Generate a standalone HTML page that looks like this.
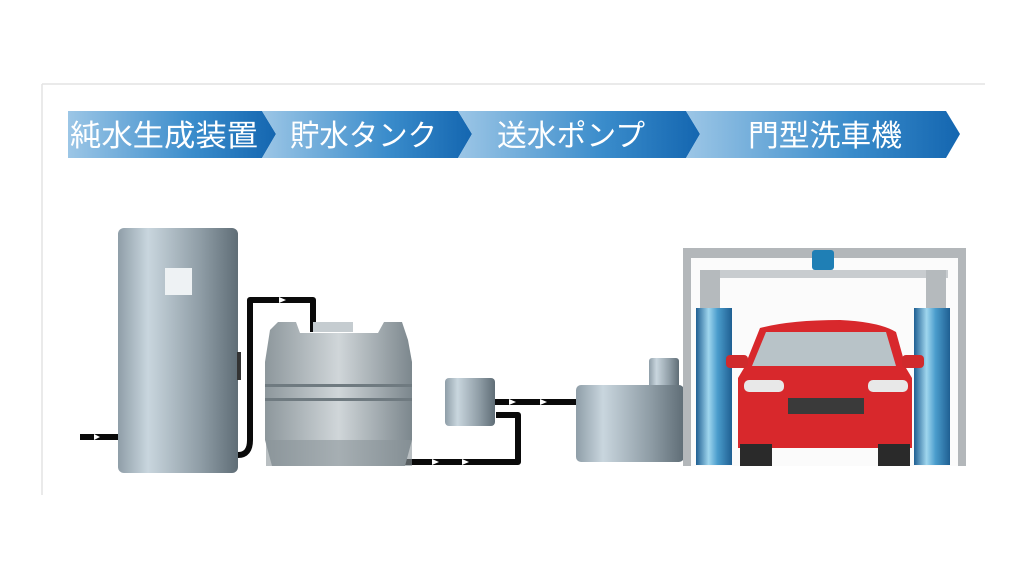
<!DOCTYPE html>
<html><head><meta charset="utf-8"><style>
html,body{margin:0;padding:0;background:#fff;width:1024px;height:576px;overflow:hidden}
svg{display:block}
text{font-family:"Liberation Sans","Noto Sans CJK JP",sans-serif;fill:#fff}
</style></head><body>
<svg width="1024" height="576" viewBox="0 0 1024 576" xmlns="http://www.w3.org/2000/svg">
<defs>
<linearGradient id="b" x1="0" x2="1" y1="0" y2="0"><stop offset="0" stop-color="#9cc6e6"/><stop offset="0.6" stop-color="#3a8ccb"/><stop offset="1" stop-color="#1466b0"/></linearGradient>
<linearGradient id="m" x1="0" x2="1"><stop offset="0" stop-color="#8f9ea8"/><stop offset="0.25" stop-color="#c9d6de"/><stop offset="0.7" stop-color="#8d9ba4"/><stop offset="1" stop-color="#5f6d76"/></linearGradient>
<linearGradient id="t" x1="0" x2="1"><stop offset="0" stop-color="#8d979c"/><stop offset="0.5" stop-color="#d0d6d9"/><stop offset="1" stop-color="#7c878d"/></linearGradient>
<linearGradient id="w" x1="0" x2="1"><stop offset="0" stop-color="#1f5f92"/><stop offset="0.35" stop-color="#9fd6ee"/><stop offset="0.6" stop-color="#4a9ccc"/><stop offset="1" stop-color="#1f5f92"/></linearGradient>
</defs>
<path d="M42 84H985M42 84V495" stroke="#e3e3e3" stroke-width="1.5" fill="none"/>
<polygon points="68,111 262,111 276,134 262,158 68,158" fill="url(#b)"/>
<polygon points="262,111 458,111 472,134 458,158 262,158 276,134" fill="url(#b)"/>
<polygon points="458,111 686,111 700,134 686,158 458,158 472,134" fill="url(#b)"/>
<polygon points="686,111 946,111 960,134 946,158 686,158 700,134" fill="url(#b)"/>
<text x="70" y="146" font-size="30" textLength="188" lengthAdjust="spacingAndGlyphs">純水生成装置</text>
<text x="290" y="146" font-size="30" textLength="147" lengthAdjust="spacingAndGlyphs">貯水タンク</text>
<text x="497" y="146" font-size="30" textLength="148" lengthAdjust="spacingAndGlyphs">送水ポンプ</text>
<text x="748" y="146" font-size="30" textLength="154" lengthAdjust="spacingAndGlyphs">門型洗車機</text>
<g stroke="#0a0a0a" stroke-width="6" fill="none" stroke-linejoin="round">
<path d="M80 437H118"/>
<path d="M238 455Q250 455 250 440V300H313V332"/>
<path d="M405 462H518V415H496"/>
<path d="M495 402H576"/>
</g>
<g fill="#fff"><polygon points="94,434 100,437 94,440"/><polygon points="279,297 286,300 279,303"/><polygon points="432,459 439,462 432,465"/><polygon points="462,459 469,462 462,465"/><polygon points="509,399 516,402 509,405"/><polygon points="540,399 547,402 540,405"/></g>
<rect x="118" y="228" width="120" height="245" rx="6" fill="url(#m)"/>
<rect x="165" y="268" width="27" height="27" fill="#eef2f4"/>
<rect x="237" y="352" width="4" height="28" fill="#333"/>
<path d="M270 330 L278 322 H296 L300 333 H378 L384 322 H402 L408 340 L412 362 V440 L405 466 H272 L265 440 V362Z" fill="url(#t)"/>
<rect x="313" y="322" width="40" height="10" fill="#c5ccd0"/>
<rect x="265" y="384" width="147" height="3" fill="#6f7a80"/>
<rect x="265" y="398" width="147" height="3" fill="#6f7a80"/>
<rect x="266" y="440" width="146" height="26" fill="#8a9499" opacity="0.6"/>
<rect x="445" y="378" width="50" height="48" rx="4" fill="url(#m)"/>
<rect x="649" y="358" width="30" height="30" rx="3" fill="url(#m)"/>
<rect x="576" y="385" width="108" height="77" rx="5" fill="url(#m)"/>
<rect x="683" y="248" width="283" height="218" fill="#fbfbfb"/>
<path d="M683 248H966V466H958V258H691V466H683Z" fill="#b3b7ba"/>
<rect x="700" y="270" width="248" height="8" fill="#c8cccf"/>
<rect x="812" y="250" width="22" height="20" rx="3" fill="#1f7fb5"/>
<rect x="700" y="270" width="20" height="38" fill="#b5babd"/><rect x="926" y="270" width="20" height="38" fill="#b5babd"/>
<rect x="696" y="308" width="36" height="157" fill="url(#w)"/>
<rect x="914" y="308" width="36" height="157" fill="url(#w)"/>
<path d="M760 328 Q790 320 840 320 Q880 322 896 332 L906 368 L912 378 V448 H738 V378 L744 368Z" fill="#d8282c"/>
<path d="M766 332 H886 L896 366 H752Z" fill="#b8c3c8"/>
<rect x="726" y="355" width="22" height="13" rx="4" fill="#d02a2c"/><rect x="902" y="355" width="22" height="13" rx="4" fill="#d02a2c"/>
<rect x="788" y="398" width="76" height="16" fill="#3a3a3a"/>
<rect x="744" y="380" width="40" height="12" rx="5" fill="#e8e8e8"/><rect x="868" y="380" width="40" height="12" rx="5" fill="#e8e8e8"/>
<rect x="740" y="444" width="32" height="22" fill="#2a2a2a"/><rect x="878" y="444" width="32" height="22" fill="#2a2a2a"/>
</svg>
</body></html>
